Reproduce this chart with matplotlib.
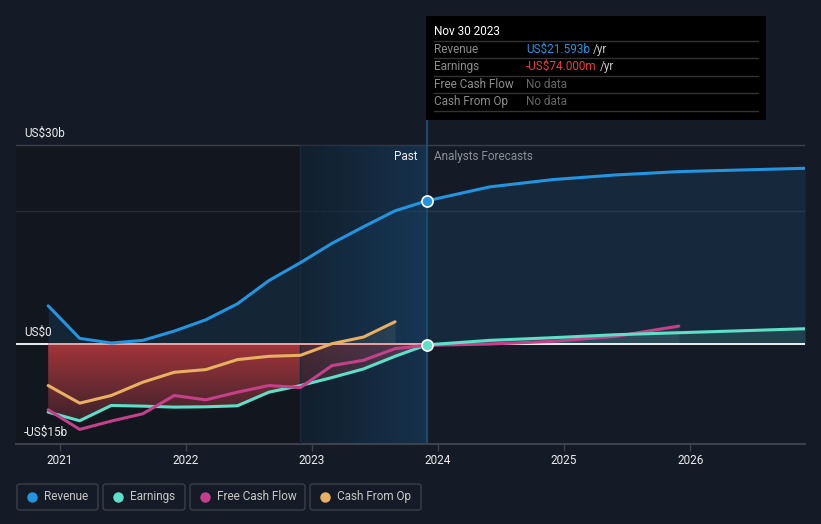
import numpy as np
import matplotlib
matplotlib.use("Agg")
import matplotlib.pyplot as plt
from matplotlib.patches import FancyBboxPatch, Rectangle
from matplotlib.lines import Line2D

plt.rcParams['font.family'] = ['Roboto', 'DejaVu Sans']

# ---------------- data (US$ billions, decimal years) ----------------
past_x = [2020.91, 2021.16, 2021.41, 2021.66, 2021.91, 2022.16, 2022.41,
          2022.66, 2022.91, 2023.16, 2023.41, 2023.66, 2023.91]
revenue_past = [5.8, 0.9, 0.2, 0.6, 2.0, 3.7, 6.1, 9.6, 12.3, 15.2, 17.7, 20.1, 21.593]
earnings_past = [-10.2, -11.5, -9.2, -9.3, -9.45, -9.4, -9.25, -7.2, -6.2, -5.0, -3.7, -1.8, -0.074]
fcf_past = [-9.85, -12.8, -11.55, -10.45, -7.7, -8.35, -7.2, -6.2, -6.5, -3.2, -2.4, -0.65, -0.15]
cfo_x = [2020.91, 2021.16, 2021.41, 2021.66, 2021.91, 2022.16, 2022.41,
         2022.66, 2022.91, 2023.16, 2023.41, 2023.66]
cfo_past = [-6.2, -8.85, -7.7, -5.7, -4.2, -3.8, -2.3, -1.8, -1.65, 0.1, 1.1, 3.4]

fc_x = [2023.91, 2024.41, 2024.91, 2025.41, 2025.91, 2026.41, 2026.91]
revenue_fc = [21.593, 23.7, 24.8, 25.5, 26.0, 26.25, 26.5]
earnings_fc = [-0.074, 0.6, 1.0, 1.45, 1.75, 2.05, 2.35]
fcf_fc_x = [2023.91, 2024.41, 2024.91, 2025.41, 2025.91]
fcf_fc = [-0.15, 0.05, 0.45, 1.2, 2.75]

year_ticks = [2021, 2022, 2023, 2024, 2025, 2026]
y_labels = {30: "US$30b", 0: "US$0", -15: "-US$15b"}

now_x = 2023.91
past_start = 2022.91

C_REV = '#2394df'
C_EARN = '#5ee0c8'
C_FCF = '#c4418a'
C_CFO = '#e8b060'
BG = '#151b26'

W, H = 821, 524
fig = plt.figure(figsize=(W / 100, H / 100), dpi=100, facecolor=BG)

def fx(x):
    return x / W

def fy(y):
    return 1 - y / H

XMIN, XMAX = 2020.655, 2026.91
YMIN, YMAX = -15, 33.77
ax = fig.add_axes([fx(16), fy(444), (805 - 16) / W, (444 - 120) / H])
ax.set_facecolor('none')
ax.set_xlim(XMIN, XMAX)
ax.set_ylim(YMIN, YMAX)
for s in ['top', 'right', 'left']:
    ax.spines[s].set_visible(False)
ax.spines['bottom'].set_color('#3d424c')
ax.spines['bottom'].set_linewidth(1.5)
ax.set_yticks([])
ax.set_xticks(year_ticks)
ax.set_xticklabels([str(y) for y in year_ticks])
ax.tick_params(axis='x', length=5, width=1, color='#3d424c', labelcolor='#ececec',
               labelsize=8.5, pad=2.5)

# backgrounds
ax.fill_between([XMIN, past_start], -15, 30, color='#12161f', lw=0, zorder=0)
ax.axhline(30, color='#3b404a', lw=1, zorder=0.5)
ax.axhline(20, color='#262d38', lw=1, zorder=0.5)

# revenue fill
rx = past_x + fc_x[1:]
ry = revenue_past + revenue_fc[1:]
ax.fill_between(rx, 0, ry, color=C_REV, alpha=0.12, lw=0, zorder=1)

# red negative fill (gradient) between 0 and earnings
poly = ax.fill_between(past_x, 0, earnings_past, color='none', lw=0, zorder=1.2)
grad = np.zeros((256, 1, 4))
top = np.array(matplotlib.colors.to_rgb('#a3353a'))
bot = np.array(matplotlib.colors.to_rgb('#35202a'))
t = np.linspace(0, 1, 256)[:, None]
grad[:, 0, :3] = top * (1 - t) + bot * t
grad[:, 0, 3] = 1.0
im = ax.imshow(grad, extent=[XMIN, XMAX, -12.5, 0], aspect='auto', zorder=1.2,
               origin='upper')
im.set_clip_path(poly.get_paths()[0], transform=ax.transData)

# CFO positive fill
cx = np.array(cfo_x)
cy = np.array(cfo_past)
ax.fill_between(cx, 0, cy, where=cy >= 0, interpolate=True, color='#b0a080',
                alpha=0.3, lw=0, zorder=1.3)

# forecast fills
ax.fill_between(fc_x, 0, earnings_fc, color=C_EARN, alpha=0.14, lw=0, zorder=1.3)
ax.fill_between(fcf_fc_x, 0, fcf_fc, color='#8090a0', alpha=0.12, lw=0, zorder=1.3)

# past highlight overlay (horizontal gradient)
hl = np.zeros((1, 256, 4))
cl = np.array(matplotlib.colors.to_rgb('#102230'))
cr = np.array(matplotlib.colors.to_rgb('#174167'))
s = np.linspace(0, 1, 256)[:, None]
hl[0, :, :3] = cl * (1 - s) + cr * s
hl[0, :, 3] = 0.6
ax.imshow(hl, extent=[past_start, now_x, -15, 30], aspect='auto', zorder=2.5)
ax.plot([past_start, past_start], [-15, 30], color='#1c2b3b', lw=1, zorder=2.6)

# zero line
ax.plot([XMIN, XMAX], [0, 0], color='white', lw=1.3, zorder=2.7, solid_capstyle='butt')
ax.plot([past_x[0], now_x], [0, 0], color='#e79a9a', lw=1.3, zorder=2.75,
        solid_capstyle='butt')

# vertical "now" line
ax.axvline(now_x, color='#1f4a6e', lw=1.5, zorder=2.8)

# lines
lkw = dict(lw=2.2, solid_capstyle='round', solid_joinstyle='round', zorder=3)
ax.plot(cfo_x, cfo_past, color=C_CFO, **lkw)
ax.plot(past_x, earnings_past, color=C_EARN, **lkw)
ax.plot(past_x, fcf_past, color=C_FCF, **lkw)
ax.plot(fcf_fc_x, fcf_fc, color=C_FCF, **lkw)
ax.plot(fc_x, earnings_fc, color=C_EARN, **lkw)
ax.plot(past_x, revenue_past, color=C_REV, **lkw)
ax.plot(fc_x, revenue_fc, color=C_REV, **lkw)

ax.plot([now_x], [revenue_past[-1]], 'o', ms=8, mfc=C_REV, mec='white', mew=1.2, zorder=5)
ax.plot([now_x], [earnings_past[-1]], 'o', ms=8, mfc=C_EARN, mec='white', mew=1.2, zorder=5)

# y labels
for v, lab in y_labels.items():
    ypix = 344 - v * (199 / 30)
    fig.text(fx(24), fy(ypix - 8), lab, color='#ececec', fontsize=8.5,
             ha='left', va='baseline')

fig.text(fx(417.5), fy(160), "Past", color='#f0f0f0', fontsize=8.5, ha='right', va='baseline')
fig.text(fx(434), fy(160), "Analysts Forecasts", color='#8a8f98', fontsize=8.5,
         ha='left', va='baseline')

# tooltip
fig.patches.append(Rectangle((fx(426), fy(120)), (766 - 426) / W, (120 - 16) / H,
                             transform=fig.transFigure, facecolor='#000000',
                             edgecolor='none', zorder=10))
fig.text(fx(434), fy(35), "Nov 30 2023", color='white', fontsize=8.5, va='baseline', zorder=11)
for ly in [41.3, 58.3, 76.3, 93.3, 111.3]:
    fig.lines.append(Line2D([fx(434), fx(758)], [fy(ly), fy(ly)], transform=fig.transFigure,
                            color='#333333', lw=1, zorder=11))
rows = [("Revenue", 52.7), ("Earnings", 70), ("Free Cash Flow", 87.7), ("Cash From Op", 105)]
for lab, by in rows:
    fig.text(fx(434), fy(by), lab, color='#8d8d8d', fontsize=8.5, va='baseline', zorder=11)

t1 = fig.text(fx(526), fy(52.7), "US$21.593b", color=C_REV, fontsize=8.5, va='baseline', zorder=11)
t2 = fig.text(fx(526), fy(70), "-US$74.000m", color='#f03a3a', fontsize=8.5, va='baseline', zorder=11)
fig.text(fx(526), fy(87.7), "No data", color='#666666', fontsize=8.5, va='baseline', zorder=11)
fig.text(fx(526), fy(105), "No data", color='#666666', fontsize=8.5, va='baseline', zorder=11)
fig.canvas.draw()
r = fig.canvas.get_renderer()
for tt in (t1, t2):
    bb = tt.get_window_extent(r)
    fig.text(bb.x1 / W + 3 / W, tt.get_position()[1], "/yr", color='#c8c8c8',
             fontsize=8.5, va='baseline', zorder=11)

# legend
legend = [("Revenue", C_REV, 17, 98), ("Earnings", C_EARN, 103, 185),
          ("Free Cash Flow", C_FCF, 190, 305), ("Cash From Op", C_CFO, 310, 421)]
for lab, col, x0, x1 in legend:
    fig.patches.append(FancyBboxPatch((fx(x0), fy(510)), (x1 - x0) / W, 26 / H,
                                      boxstyle="round,pad=0,rounding_size=0.004",
                                      transform=fig.transFigure, facecolor='none',
                                      edgecolor='#3a3f48', lw=1))
    fig.lines.append(Line2D([fx(x0 + 15)], [fy(496.5)], marker='o', ms=6.5, color=col,
                            mec=col, transform=fig.transFigure))
    fig.text(fx(x0 + 27), fy(496.5), lab, color='#c8c8c8', fontsize=8.5,
             va='center', ha='left')

fig.savefig("out.png", dpi=100, facecolor=BG)
